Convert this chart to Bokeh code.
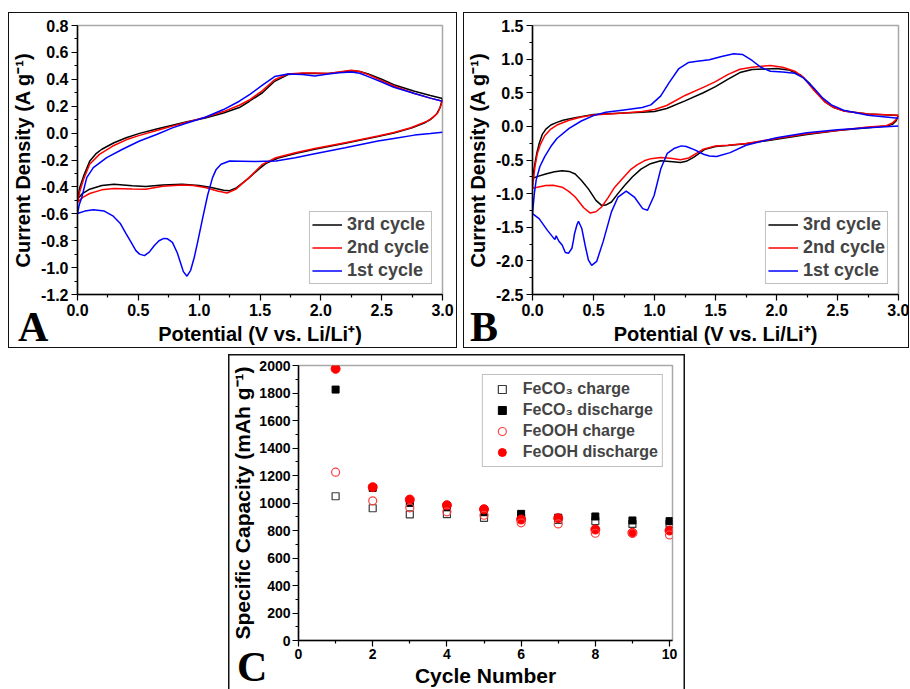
from bokeh.plotting import figure
from bokeh.models import FixedTicker, PrintfTickFormatter, Legend, LegendItem, Spacer, Div
from bokeh.layouts import column, row
from bokeh.embed import file_html
from bokeh.resources import INLINE

# ---------------- Panel A data (V, A/g) ----------------
a3_cat_v = [3.0, 2.98, 2.95, 2.9, 2.85, 2.75, 2.6, 2.45, 2.2, 1.95, 1.8, 1.65, 1.55, 1.5, 1.45, 1.4, 1.3, 1.25, 1.2, 1.1, 1.0, 0.86, 0.7, 0.56, 0.45, 0.3, 0.2, 0.1, 0.04, 0.0]
a3_cat_i = [0.255, 0.19, 0.14, 0.10, 0.075, 0.04, 0.0, -0.03, -0.075, -0.12, -0.15, -0.185, -0.225, -0.26, -0.3, -0.34, -0.41, -0.428, -0.425, -0.405, -0.39, -0.38, -0.385, -0.397, -0.392, -0.38, -0.39, -0.417, -0.45, -0.49]
a3_an_v = [0.0, 0.02, 0.05, 0.1, 0.15, 0.2, 0.3, 0.4, 0.51, 0.65, 0.78, 0.9, 1.05, 1.2, 1.33, 1.41, 1.52, 1.62, 1.73, 1.85, 1.95, 2.06, 2.15, 2.25, 2.32, 2.39, 2.5, 2.6, 2.77, 2.9, 3.0]
a3_an_i = [-0.49, -0.40, -0.32, -0.21, -0.155, -0.12, -0.072, -0.035, -0.002, 0.03, 0.059, 0.085, 0.113, 0.15, 0.19, 0.235, 0.30, 0.385, 0.435, 0.444, 0.444, 0.444, 0.452, 0.464, 0.458, 0.44, 0.40, 0.36, 0.311, 0.28, 0.257]

a2_cat_v = [3.0, 2.98, 2.96, 2.92, 2.875, 2.74, 2.6, 2.47, 2.2, 1.95, 1.79, 1.63, 1.52, 1.41, 1.3, 1.23, 1.15, 1.05, 0.95, 0.86, 0.7, 0.56, 0.45, 0.3, 0.2, 0.1, 0.04, 0.0]
a2_cat_i = [0.237, 0.19, 0.15, 0.115, 0.089, 0.04, 0.005, -0.022, -0.072, -0.114, -0.146, -0.183, -0.232, -0.331, -0.418, -0.445, -0.43, -0.405, -0.39, -0.385, -0.395, -0.417, -0.415, -0.412, -0.422, -0.449, -0.48, -0.515]
a2_an_v = [0.0, 0.02, 0.05, 0.1, 0.18, 0.29, 0.4, 0.51, 0.65, 0.78, 0.9, 1.05, 1.2, 1.33, 1.42, 1.52, 1.62, 1.73, 1.85, 1.95, 2.06, 2.15, 2.25, 2.32, 2.39, 2.5, 2.6, 2.77, 2.9, 3.0]
a2_an_i = [-0.515, -0.43, -0.343, -0.232, -0.158, -0.096, -0.05, -0.017, 0.02, 0.052, 0.08, 0.118, 0.16, 0.207, 0.25, 0.316, 0.397, 0.44, 0.447, 0.447, 0.444, 0.455, 0.467, 0.458, 0.435, 0.39, 0.35, 0.294, 0.26, 0.237]

a1_cat_v = [3.0, 2.9, 2.77, 2.6, 2.47, 2.2, 1.95, 1.79, 1.63, 1.46, 1.35, 1.25, 1.18, 1.14, 1.11, 1.07, 1.03, 0.99, 0.96, 0.93, 0.9, 0.87, 0.85, 0.82, 0.78, 0.74, 0.71, 0.67, 0.63, 0.59, 0.55, 0.51, 0.48, 0.44, 0.40, 0.35, 0.29, 0.22, 0.13, 0.06, 0.0]
a1_cat_i = [0.007, -0.003, -0.015, -0.04, -0.059, -0.109, -0.153, -0.183, -0.207, -0.212, -0.209, -0.207, -0.232, -0.27, -0.331, -0.46, -0.627, -0.80, -0.923, -1.02, -1.064, -1.03, -0.973, -0.89, -0.812, -0.786, -0.783, -0.80, -0.837, -0.885, -0.911, -0.90, -0.874, -0.81, -0.75, -0.67, -0.615, -0.58, -0.57, -0.58, -0.598]
a1_an_v = [0.0, 0.015, 0.035, 0.076, 0.13, 0.24, 0.37, 0.51, 0.65, 0.78, 0.9, 1.05, 1.2, 1.33, 1.42, 1.52, 1.62, 1.73, 1.85, 1.95, 2.06, 2.15, 2.25, 2.32, 2.39, 2.5, 2.6, 2.77, 2.9, 3.0]
a1_an_i = [-0.598, -0.53, -0.479, -0.331, -0.257, -0.183, -0.12, -0.059, -0.01, 0.039, 0.075, 0.118, 0.175, 0.237, 0.29, 0.356, 0.42, 0.44, 0.435, 0.425, 0.44, 0.448, 0.454, 0.445, 0.42, 0.38, 0.341, 0.294, 0.26, 0.237]

# ---------------- Panel B data (V, A/g) ----------------
b3_cat_v = [3.0, 2.98, 2.95, 2.9, 2.75, 2.5, 2.25, 2.0, 1.75, 1.6, 1.5, 1.415, 1.32, 1.26, 1.213, 1.15, 1.051, 0.96, 0.889, 0.82, 0.755, 0.70, 0.647, 0.60, 0.566, 0.52, 0.458, 0.40, 0.35, 0.30, 0.243, 0.18, 0.108, 0.05, 0.0]
b3_cat_i = [0.16, 0.08, 0.03, 0.005, -0.02, -0.06, -0.12, -0.19, -0.26, -0.285, -0.30, -0.34, -0.462, -0.52, -0.536, -0.525, -0.512, -0.56, -0.635, -0.75, -0.88, -1.0, -1.125, -1.17, -1.175, -1.10, -0.929, -0.80, -0.708, -0.67, -0.659, -0.675, -0.708, -0.74, -0.772]
b3_an_v = [0.0, 0.02, 0.035, 0.054, 0.08, 0.11, 0.15, 0.2, 0.25, 0.35, 0.5, 0.75, 0.9, 1.0, 1.1, 1.25, 1.4, 1.5, 1.6, 1.7, 1.8, 2.0, 2.1, 2.2, 2.27, 2.33, 2.4, 2.47, 2.55, 2.75, 3.0]
b3_an_i = [-0.772, -0.55, -0.40, -0.26, -0.12, -0.04, 0.02, 0.06, 0.09, 0.13, 0.175, 0.20, 0.21, 0.22, 0.265, 0.38, 0.50, 0.59, 0.70, 0.80, 0.845, 0.86, 0.84, 0.76, 0.64, 0.50, 0.36, 0.28, 0.23, 0.185, 0.16]

b2_cat_v = [3.0, 2.98, 2.95, 2.9, 2.75, 2.5, 2.25, 2.0, 1.75, 1.6, 1.5, 1.40, 1.347, 1.28, 1.213, 1.13, 1.051, 0.97, 0.916, 0.86, 0.809, 0.74, 0.674, 0.62, 0.566, 0.52, 0.471, 0.42, 0.35, 0.30, 0.243, 0.17, 0.108, 0.05, 0.0]
b2_cat_i = [0.16, 0.10, 0.05, 0.01, -0.01, -0.06, -0.11, -0.18, -0.255, -0.28, -0.29, -0.34, -0.399, -0.47, -0.497, -0.475, -0.463, -0.48, -0.512, -0.57, -0.635, -0.77, -0.904, -1.06, -1.199, -1.27, -1.287, -1.21, -1.051, -0.97, -0.904, -0.875, -0.88, -0.90, -0.919]
b2_an_v = [0.0, 0.02, 0.04, 0.062, 0.1, 0.15, 0.2, 0.3, 0.4, 0.5, 0.75, 0.9, 1.0, 1.1, 1.25, 1.4, 1.5, 1.6, 1.7, 1.8, 1.95, 2.05, 2.15, 2.22, 2.3, 2.4, 2.47, 2.55, 2.75, 3.0]
b2_an_i = [-0.919, -0.60, -0.40, -0.28, -0.14, -0.04, 0.02, 0.09, 0.14, 0.17, 0.20, 0.22, 0.25, 0.31, 0.46, 0.58, 0.665, 0.77, 0.85, 0.88, 0.905, 0.88, 0.82, 0.73, 0.55, 0.36, 0.28, 0.23, 0.185, 0.165]

b1_cat_v = [3.0, 2.75, 2.5, 2.25, 2.0, 1.75, 1.62, 1.509, 1.45, 1.402, 1.33, 1.26, 1.22, 1.159, 1.105, 1.051, 0.997, 0.943, 0.903, 0.835, 0.768, 0.701, 0.647, 0.579, 0.526, 0.485, 0.458, 0.431, 0.404, 0.377, 0.365, 0.356, 0.345, 0.335, 0.323, 0.296, 0.269, 0.243, 0.215, 0.194, 0.185, 0.175, 0.121, 0.054, 0.0]
b1_cat_i = [0.005, -0.02, -0.05, -0.095, -0.17, -0.28, -0.39, -0.448, -0.44, -0.414, -0.35, -0.30, -0.29, -0.33, -0.40, -0.635, -1.028, -1.248, -1.223, -1.051, -0.963, -1.051, -1.272, -1.714, -2.008, -2.067, -1.985, -1.764, -1.518, -1.41, -1.46, -1.518, -1.592, -1.70, -1.812, -1.886, -1.876, -1.764, -1.705, -1.626, -1.68, -1.665, -1.543, -1.371, -1.297]
b1_an_v = [0.0, 0.015, 0.03, 0.06, 0.1, 0.15, 0.2, 0.3, 0.4, 0.5, 0.6, 0.75, 0.9, 0.97, 1.05, 1.12, 1.2, 1.28, 1.35, 1.45, 1.55, 1.65, 1.72, 1.8, 1.87, 1.95, 2.05, 2.15, 2.22, 2.3, 2.38, 2.45, 2.55, 2.75, 3.0]
b1_an_i = [-1.297, -1.0, -0.80, -0.60, -0.45, -0.30, -0.18, -0.03, 0.08, 0.16, 0.21, 0.245, 0.28, 0.32, 0.45, 0.65, 0.86, 0.95, 0.97, 0.99, 1.04, 1.08, 1.07, 0.98, 0.88, 0.82, 0.81, 0.79, 0.72, 0.58, 0.42, 0.32, 0.24, 0.165, 0.12]

# ---------------- Panel C data (mAh/g) ----------------
cycles = [1, 2, 3, 4, 5, 6, 7, 8, 9, 10]
feco3_charge = [1049, 962, 918, 919, 892, 890, 878, 868, 848, 848]
feco3_discharge = [1825, 1110, 1001, 970, 933, 921, 893, 902, 873, 868]
feooh_charge = [1224, 1016, 965, 936, 911, 856, 848, 780, 780, 768]
feooh_discharge = [1976, 1115, 1025, 984, 955, 880, 890, 807, 783, 800]

# ticks
a_xticks = [0.0, 0.5, 1.0, 1.5, 2.0, 2.5, 3.0]
a_yticks = [-1.2, -1.0, -0.8, -0.6, -0.4, -0.2, 0.0, 0.2, 0.4, 0.6, 0.8]
b_yticks = [-2.5, -2.0, -1.5, -1.0, -0.5, 0.0, 0.5, 1.0, 1.5]
c_xticks = [0, 2, 4, 6, 8, 10]
c_yticks = [0, 200, 400, 600, 800, 1000, 1200, 1400, 1600, 1800, 2000]

SANS = "Liberation Sans"
BORDER = {"outline": "1.5px solid #111111", "outline-offset": "-1.5px"}
BORDER_C = {"box-shadow": "inset 1.5px 1.5px 0 0 #111111, inset -1.5px 0 0 0 #111111"}


def minors(ticks):
    return [round((a + b) / 2.0, 6) for a, b in zip(ticks[:-1], ticks[1:])]


def style(p, xt, yt, xfmt, yfmt, xlabel, ylabel, tick_size, label_size, styles,
          tick_standoff=3, label_standoff=4):
    p.xaxis.ticker = FixedTicker(ticks=xt, minor_ticks=minors(xt))
    p.yaxis.ticker = FixedTicker(ticks=yt, minor_ticks=minors(yt))
    p.xaxis.formatter = PrintfTickFormatter(format=xfmt)
    p.yaxis.formatter = PrintfTickFormatter(format=yfmt)
    p.xaxis.axis_label = xlabel
    p.yaxis.axis_label = ylabel
    for ax in (p.xaxis[0], p.yaxis[0]):
        ax.axis_line_color = "black"
        ax.axis_line_width = 1.5
        ax.major_tick_line_color = "black"
        ax.major_tick_line_width = 1.2
        ax.minor_tick_line_color = "black"
        ax.minor_tick_line_width = 1.2
        ax.major_tick_out = 6
        ax.major_tick_in = 0
        ax.minor_tick_out = 3
        ax.minor_tick_in = 0
        ax.major_label_text_font = SANS
        ax.major_label_text_font_style = "bold"
        ax.major_label_text_font_size = tick_size
        ax.major_label_text_color = "black"
        ax.major_label_standoff = tick_standoff
        ax.axis_label_text_font = SANS
        ax.axis_label_text_font_style = "bold"
        ax.axis_label_text_font_size = label_size
        ax.axis_label_text_color = "black"
        ax.axis_label_standoff = label_standoff
    p.xgrid.visible = False
    p.ygrid.visible = False
    p.outline_line_color = "#a8a8a8"
    p.outline_line_width = 1.5
    p.background_fill_color = "white"
    p.border_fill_color = None
    p.styles = styles


def cv_legend(p, renderers, labels):
    lg = Legend(items=[LegendItem(label=l, renderers=[r]) for l, r in zip(labels, renderers)],
                location="bottom_right")
    lg.margin = 10
    lg.padding = 2
    lg.spacing = 2
    lg.glyph_width = 30
    lg.glyph_height = 21
    lg.label_height = 21
    lg.label_standoff = 5
    lg.label_text_font = SANS
    lg.label_text_font_style = "bold"
    lg.label_text_font_size = "18px"
    lg.border_line_color = "#808080"
    lg.border_line_width = 1.5
    p.add_layout(lg)


def panel_letter(txt, left, top):
    html = ('<span style="font-family: \'Liberation Serif\', serif; font-weight: bold; '
            'font-size: 42px; line-height: 42px; color: black;">%s</span>' % txt)
    return Div(text=html, width=40, height=44, margin=0,
               styles={"position": "absolute", "left": "%dpx" % left, "top": "%dpx" % top,
                       "z-index": "10"})


# ---------------- Panel A ----------------
pA = figure(width=449, height=336, x_range=(0, 3.0), y_range=(-1.2, 0.8),
            output_backend="svg", toolbar_location=None,
            min_border_left=66, min_border_right=15, min_border_top=12, min_border_bottom=54)
style(pA, a_xticks, a_yticks, "%.1f", "%.1f", "Potential (V vs. Li/Li\u207a)",
      "Current Density (A g\u207b\u00b9)", "16px", "20px", BORDER)
rA3 = pA.line(a3_cat_v + a3_an_v, a3_cat_i + a3_an_i, line_color="black", line_width=1.5)
rA2 = pA.line(a2_cat_v + a2_an_v, a2_cat_i + a2_an_i, line_color="#ff0000", line_width=1.5)
rA1 = pA.line(a1_cat_v + a1_an_v, a1_cat_i + a1_an_i, line_color="#0000ff", line_width=1.5)
cv_legend(pA, [rA3, rA2, rA1], ["3rd cycle", "2nd cycle", "1st cycle"])

# ---------------- Panel B ----------------
pB = figure(width=446, height=336, x_range=(0, 3.0), y_range=(-2.5, 1.5),
            output_backend="svg", toolbar_location=None,
            min_border_left=64, min_border_right=11, min_border_top=13, min_border_bottom=51)
style(pB, a_xticks, b_yticks, "%.1f", "%.1f", "Potential (V vs. Li/Li\u207a)",
      "Current Density (A g\u207b\u00b9)", "16px", "20px", BORDER)
rB3 = pB.line(b3_cat_v + b3_an_v, b3_cat_i + b3_an_i, line_color="black", line_width=1.5)
rB2 = pB.line(b2_cat_v + b2_an_v, b2_cat_i + b2_an_i, line_color="#ff0000", line_width=1.5)
rB1 = pB.line(b1_cat_v + b1_an_v, b1_cat_i + b1_an_i, line_color="#0000ff", line_width=1.5)
cv_legend(pB, [rB3, rB2, rB1], ["3rd cycle", "2nd cycle", "1st cycle"])

# ---------------- Panel C ----------------
pC = figure(width=457, height=335, x_range=(0, 10.08), y_range=(0, 2000),
            output_backend="svg", toolbar_location=None,
            min_border_left=70, min_border_right=13, min_border_top=11, min_border_bottom=49)
style(pC, c_xticks, c_yticks, "%d", "%d", "Cycle Number", "Specific Capacity (mAh g\u207b\u00b9)",
      "14px", "21px", BORDER_C, tick_standoff=2, label_standoff=2)
pC.xaxis.ticker = FixedTicker(ticks=c_xticks, minor_ticks=[1, 3, 5, 7, 9])
s1 = pC.scatter(cycles, feco3_charge, marker="square", size=7, fill_color=None, line_color="#3a3a3a", line_width=1.2)
s2 = pC.scatter(cycles, feco3_discharge, marker="square", size=7, fill_color="black", line_color="black")
s4 = pC.scatter(cycles, feooh_discharge, marker="circle", size=9, fill_color="#ff0000", line_color="#ff0000")
s3 = pC.scatter(cycles, feooh_charge, marker="circle", size=8, fill_color=None, line_color="#ff4040", line_width=1.2)
lgC = Legend(items=[LegendItem(label="FeCO\u2083 charge", renderers=[s1]),
                    LegendItem(label="FeCO\u2083 discharge", renderers=[s2]),
                    LegendItem(label="FeOOH charge", renderers=[s3]),
                    LegendItem(label="FeOOH discharge", renderers=[s4])],
             location="top_right")
lgC.margin = 9
lgC.padding = 4
lgC.spacing = 1
lgC.glyph_width = 30
lgC.glyph_height = 20
lgC.label_height = 20
lgC.label_standoff = 6
lgC.label_text_font = SANS
lgC.label_text_font_style = "bold"
lgC.label_text_font_size = "16px"
lgC.border_line_color = "#808080"
lgC.border_line_width = 1.5
pC.add_layout(lgC)

divA = panel_letter("A", 18, 306)
divB = panel_letter("B", 470, 306)
divC = panel_letter("C", 237, 646)

layout = column(Spacer(height=12),
                row(Spacer(width=8), pA, Spacer(width=6), pB),
                Spacer(height=6),
                row(Spacer(width=228), pC),
                divA, divB, divC,
                styles={"position": "relative"})

open("out.html", "w").write(file_html(layout, INLINE))
